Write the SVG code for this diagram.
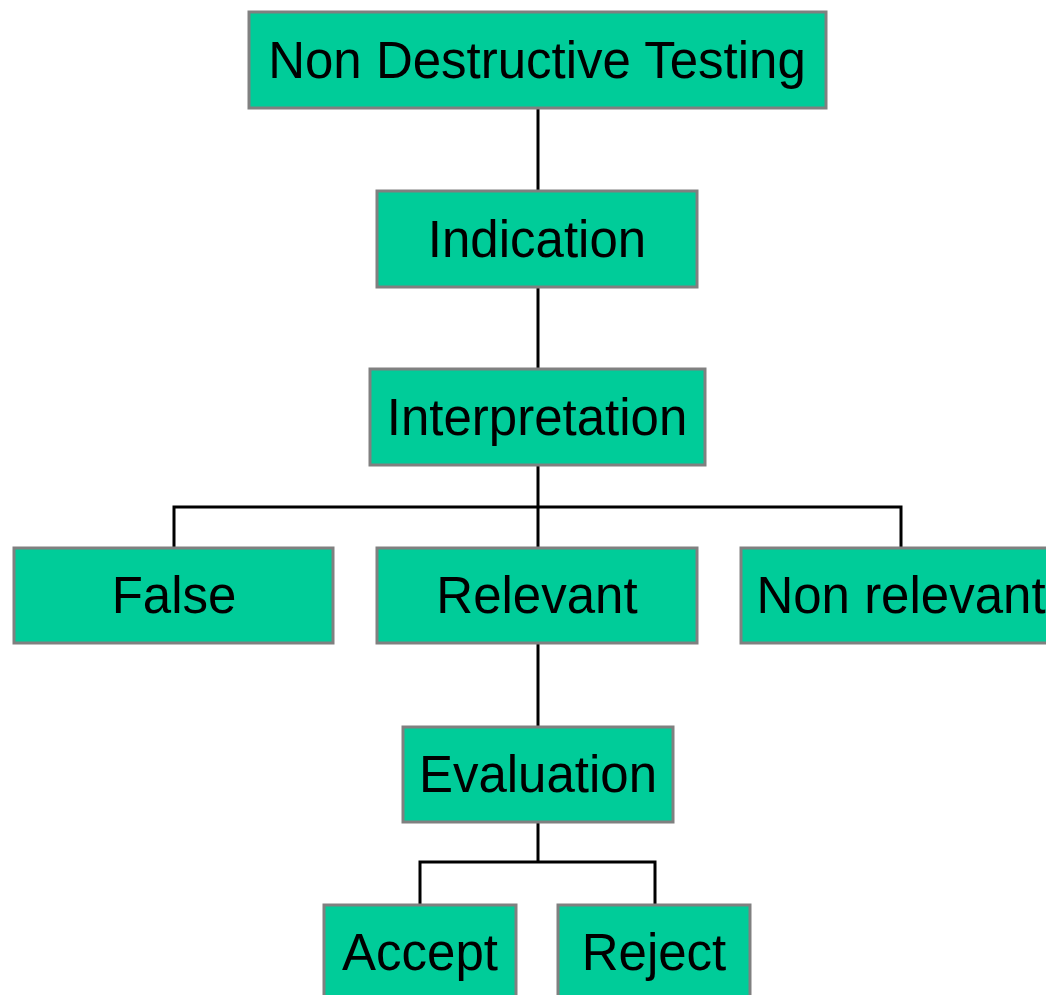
<svg xmlns="http://www.w3.org/2000/svg" width="1046" height="995" viewBox="0 0 1046 995">
<style>
.box{fill:#00CC99;stroke:#808080;stroke-width:3}
.lbl{font-family:"Liberation Sans",Arial,sans-serif;font-size:51px;fill:#000;text-anchor:middle}
.con{fill:none;stroke:#000;stroke-width:3}
</style>
<rect width="1046" height="995" fill="#fff"/>
<g id="connectors">
<line class="con" x1="538" y1="108" x2="538" y2="191"/>
<line class="con" x1="538" y1="287" x2="538" y2="369"/>
<line class="con" x1="538" y1="465" x2="538" y2="548"/>
<polyline class="con" points="174,548 174,507 901,507 901,548"/>
<line class="con" x1="538" y1="643" x2="538" y2="727"/>
<line class="con" x1="538" y1="822" x2="538" y2="862"/>
<polyline class="con" points="420,905 420,862 655,862 655,905"/>
</g>
<g id="ndt"><rect class="box" x="249" y="12" width="577" height="96"/><text class="lbl" x="537" y="78">Non Destructive Testing</text></g>
<g id="indication"><rect class="box" x="377" y="191" width="320" height="96"/><text class="lbl" x="537" y="257">Indication</text></g>
<g id="interpretation"><rect class="box" x="370" y="369" width="335" height="96"/><text class="lbl" x="537" y="435">Interpretation</text></g>
<g id="false"><rect class="box" x="14" y="548" width="319" height="95"/><text class="lbl" x="174" y="613">False</text></g>
<g id="relevant"><rect class="box" x="377" y="548" width="320" height="95"/><text class="lbl" x="537" y="613">Relevant</text></g>
<g id="nonrelevant"><rect class="box" x="741" y="548" width="320" height="95"/><text class="lbl" x="901" y="613">Non relevant</text></g>
<g id="evaluation"><rect class="box" x="403" y="727" width="270" height="95"/><text class="lbl" x="538" y="792">Evaluation</text></g>
<g id="accept"><rect class="box" x="324" y="905" width="192" height="96"/><text class="lbl" x="420" y="970">Accept</text></g>
<g id="reject"><rect class="box" x="558" y="905" width="192" height="96"/><text class="lbl" x="654" y="970">Reject</text></g>
</svg>
